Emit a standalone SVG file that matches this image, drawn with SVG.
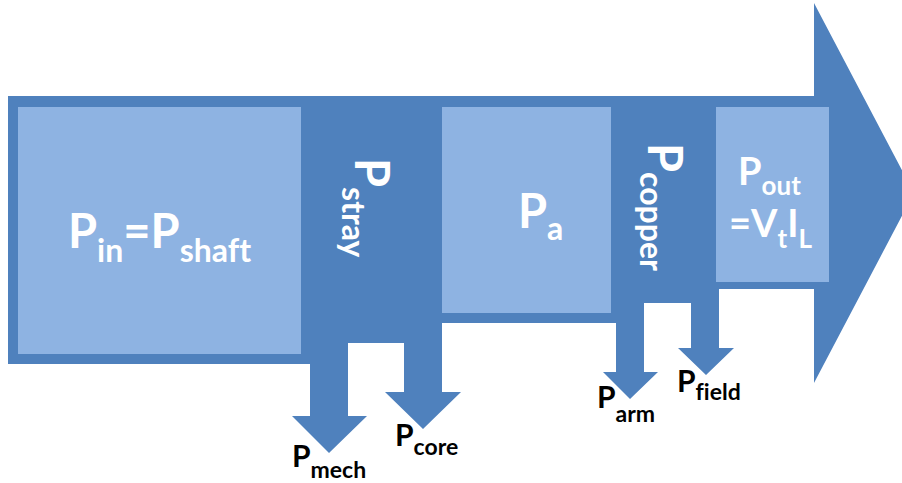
<svg xmlns="http://www.w3.org/2000/svg" width="902" height="483" viewBox="0 0 902 483">
<style>
.dark{fill:#4F81BD}
.light{fill:#8EB3E2}
.w{fill:#FFFFFF;font-family:Lato,"Open Sans","Liberation Sans",sans-serif;font-weight:bold;font-variant-ligatures:none}
.k{fill:#000000;font-family:Lato,"Open Sans","Liberation Sans",sans-serif;font-weight:bold;font-variant-ligatures:none}
</style>
<g id="connectors">
<polygon class="dark" points="8,96 814,96 814,3 914,193 814,383 814,289 719,289 719,348 734,348 706,375 678,348 691,348 691,303 644,303 644,372 658,372 630,399 603,372 616,372 616,323 442,323 442,392 461,392 423,429 385,392 404,392 404,343 348,343 348,416 367,416 329,453 292,416 310,416 310,364 8,364"/>
</g>
<g id="pin">
<rect class="light" x="18" y="107" width="283" height="247"/>
<text class="w" x="68" y="248" font-size="47">P<tspan font-size="32" dy="14">in</tspan><tspan dy="-14">=P</tspan><tspan font-size="32" dy="14">shaft</tspan></text>
</g>
<g id="pstray">
<text class="w" transform="translate(355,158) rotate(90)" font-size="47">P<tspan font-size="32" dy="13">stray</tspan></text>
</g>
<g id="pa">
<rect class="light" x="442" y="107" width="169" height="206"/>
<text class="w" x="518" y="228" font-size="47">P<tspan font-size="32" dy="12">a</tspan></text>
</g>
<g id="pcopper">
<text class="w" transform="translate(648,143) rotate(90)" font-size="47">P<tspan font-size="32" dy="8">copper</tspan></text>
</g>
<g id="pout">
<rect class="light" x="716" y="107" width="113" height="175"/>
<text class="w" x="738" y="185" font-size="38">P<tspan font-size="26" dy="10">out</tspan></text>
<text class="w" x="729" y="237" font-size="38">=V<tspan font-size="26" dy="11">t</tspan><tspan dy="-11">I</tspan><tspan font-size="26" dy="11">L</tspan></text>
</g>
<g id="pmech">
<text class="k" x="292" y="467" font-size="30">P<tspan font-size="23" dy="11">mech</tspan></text>
</g>
<g id="pcore">
<text class="k" x="395" y="446" font-size="30">P<tspan font-size="23" dy="9">core</tspan></text>
</g>
<g id="parm">
<text class="k" x="597" y="408" font-size="30">P<tspan font-size="23" dy="14">arm</tspan></text>
</g>
<g id="pfield">
<text class="k" x="677" y="392" font-size="30">P<tspan font-size="23" dy="8">field</tspan></text>
</g>
</svg>
